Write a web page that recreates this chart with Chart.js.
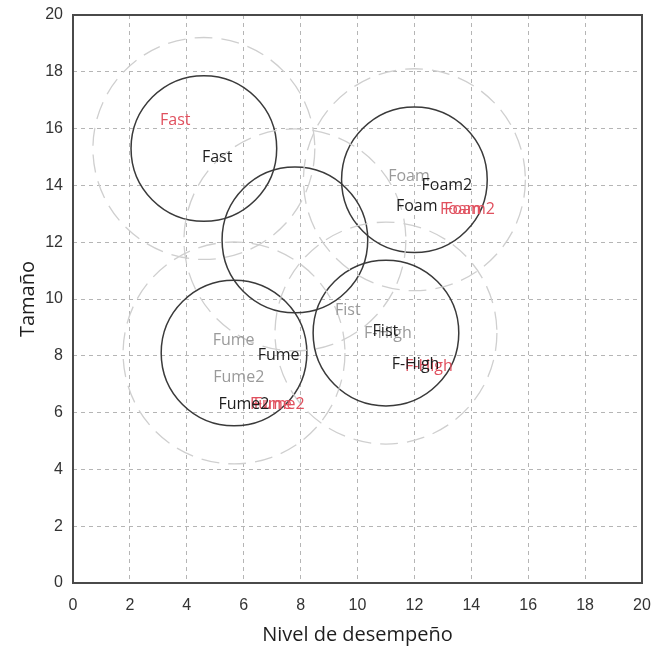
<!DOCTYPE html>
<html>
<head>
<meta charset="utf-8">
<script src="https://cdn.jsdelivr.net/npm/chart.js@4.4.1/dist/chart.umd.min.js"></script>
<style>
  html, body { margin: 0; padding: 0; background: #fff; }
</style>
</head>
<body>
<canvas id="mapChart" width="652" height="649"></canvas>
<script>
// axis range / ticks
const axisMin = 0;
const axisMax = 20;
const tickStep = 2;

// solid circles (group centres) and their dashed halos
const circleX = [4.6, 7.8, 12.0, 11.0, 5.66];
const circleY = [15.3, 12.08, 14.2, 8.8, 8.1];
const circleRadius = 2.56;  // data units
const haloRadius = 3.9;     // data units

// labels, one set per configuration
const grayNames = ['Foam', 'Fist', 'F-High', 'Fume', 'Fume2'];
const grayX = [11.08, 9.21, 10.23, 4.91, 4.93];
const grayY = [14.31, 9.61, 8.79, 8.53, 7.23];

const redNames = ['Fast', 'Foam', 'Foam2', 'F-High', 'Fume', 'Fume2'];
const redX = [3.06, 12.9, 13.05, 11.67, 6.22, 6.35];
const redY = [16.27, 13.16, 13.16, 7.64, 6.29, 6.29];

const blackNames = ['Fast', 'Foam2', 'Foam', 'Fist', 'F-High', 'Fume', 'Fume2'];
const blackX = [4.53, 12.25, 11.35, 10.53, 11.2, 6.49, 5.11];
const blackY = [15.0, 14.01, 13.25, 8.85, 7.68, 8.0, 6.3];

const toPoints = (xs, ys) => xs.map((x, i) => ({ x: x, y: ys[i] }));

// radius given in data units -> pixels through the x scale
function unitRadius(r) {
  return ctx => {
    const sx = ctx.chart.scales.x;
    if (!sx) return 0;
    return Math.abs(sx.getPixelForValue(r) - sx.getPixelForValue(0));
  };
}

function labelSet(names, xs, ys, color) {
  return {
    data: toPoints(xs, ys),
    names: names,
    textColor: color,
    pointRadius: 0,
    pointHoverRadius: 0
  };
}

const frameAndLabels = {
  id: 'frameAndLabels',
  beforeDatasetsDraw(chart) {
    const { ctx, chartArea: a } = chart;
    ctx.save();
    ctx.strokeStyle = '#4a4a4a';
    ctx.lineWidth = 2;
    ctx.strokeRect(a.left, a.top, a.right - a.left, a.bottom - a.top);
    ctx.restore();
  },
  beforeDatasetDraw(chart, args) {
    const ds = chart.data.datasets[args.index];
    if (ds.dash) chart.ctx.setLineDash(ds.dash);
  },
  afterDatasetDraw(chart) {
    chart.ctx.setLineDash([]);
  },
  afterDatasetsDraw(chart) {
    const ctx = chart.ctx;
    ctx.save();
    ctx.font = '16px "Open Sans"';
    ctx.textAlign = 'left';
    ctx.textBaseline = 'middle';
    chart.data.datasets.forEach((ds, i) => {
      if (!ds.names) return;
      ctx.fillStyle = ds.textColor;
      chart.getDatasetMeta(i).data.forEach((pt, j) => {
        ctx.fillText(ds.names[j], pt.x, pt.y);
      });
    });
    ctx.restore();
  }
};

new Chart(document.getElementById('mapChart'), {
  type: 'scatter',
  data: {
    datasets: [
      {
        data: toPoints(circleX, circleY),
        dash: [18, 9],
        pointRadius: unitRadius(haloRadius),
        pointHoverRadius: unitRadius(haloRadius),
        backgroundColor: 'rgba(0,0,0,0)',
        borderColor: '#cfcfcf',
        borderWidth: 1.3
      },
      labelSet(grayNames, grayX, grayY, '#9a9a9a'),
      {
        data: toPoints(circleX, circleY),
        pointRadius: unitRadius(circleRadius),
        pointHoverRadius: unitRadius(circleRadius),
        backgroundColor: 'rgba(0,0,0,0)',
        borderColor: '#3a3a3a',
        borderWidth: 1.5
      },
      labelSet(redNames, redX, redY, '#e0505e'),
      labelSet(blackNames, blackX, blackY, '#1e1e1e')
    ]
  },
  options: {
    responsive: false,
    animation: false,
    devicePixelRatio: 1,
    events: [],
    layout: { padding: { top: 15, right: 10, left: 0, bottom: 0 } },
    plugins: {
      legend: { display: false },
      tooltip: { enabled: false }
    },
    scales: {
      x: {
        type: 'linear',
        min: axisMin,
        max: axisMax,
        afterFit: scale => {
          scale.height = 66;
          scale.paddingLeft = 0;
          scale.paddingRight = 0;
        },
        ticks: {
          stepSize: tickStep,
          color: '#333',
          padding: 13,
          maxRotation: 0,
          font: { family: '"Liberation Sans", Arial', size: 16 }
        },
        grid: { color: '#b5b5b5', lineWidth: 1, drawTicks: false },
        border: { display: false, dash: [4, 4] },
        title: {
          display: true,
          text: 'Nivel de desempeño',
          color: '#1e1e1e',
          padding: { top: 0, bottom: 2 },
          font: { family: '"Open Sans"', size: 20 }
        }
      },
      y: {
        type: 'linear',
        min: axisMin,
        max: axisMax,
        afterFit: scale => {
          scale.width = 73;
          scale.paddingTop = 0;
          scale.paddingBottom = 0;
        },
        ticks: {
          stepSize: tickStep,
          color: '#333',
          padding: 10,
          font: { family: '"Liberation Sans", Arial', size: 16 }
        },
        grid: { color: '#b5b5b5', lineWidth: 1, drawTicks: false },
        border: { display: false, dash: [4, 4] },
        title: {
          display: true,
          text: 'Tamaño',
          color: '#1e1e1e',
          padding: { top: 16, bottom: 0 },
          font: { family: '"Open Sans"', size: 20 }
        }
      }
    }
  },
  plugins: [frameAndLabels]
});
</script>
</body>
</html>
